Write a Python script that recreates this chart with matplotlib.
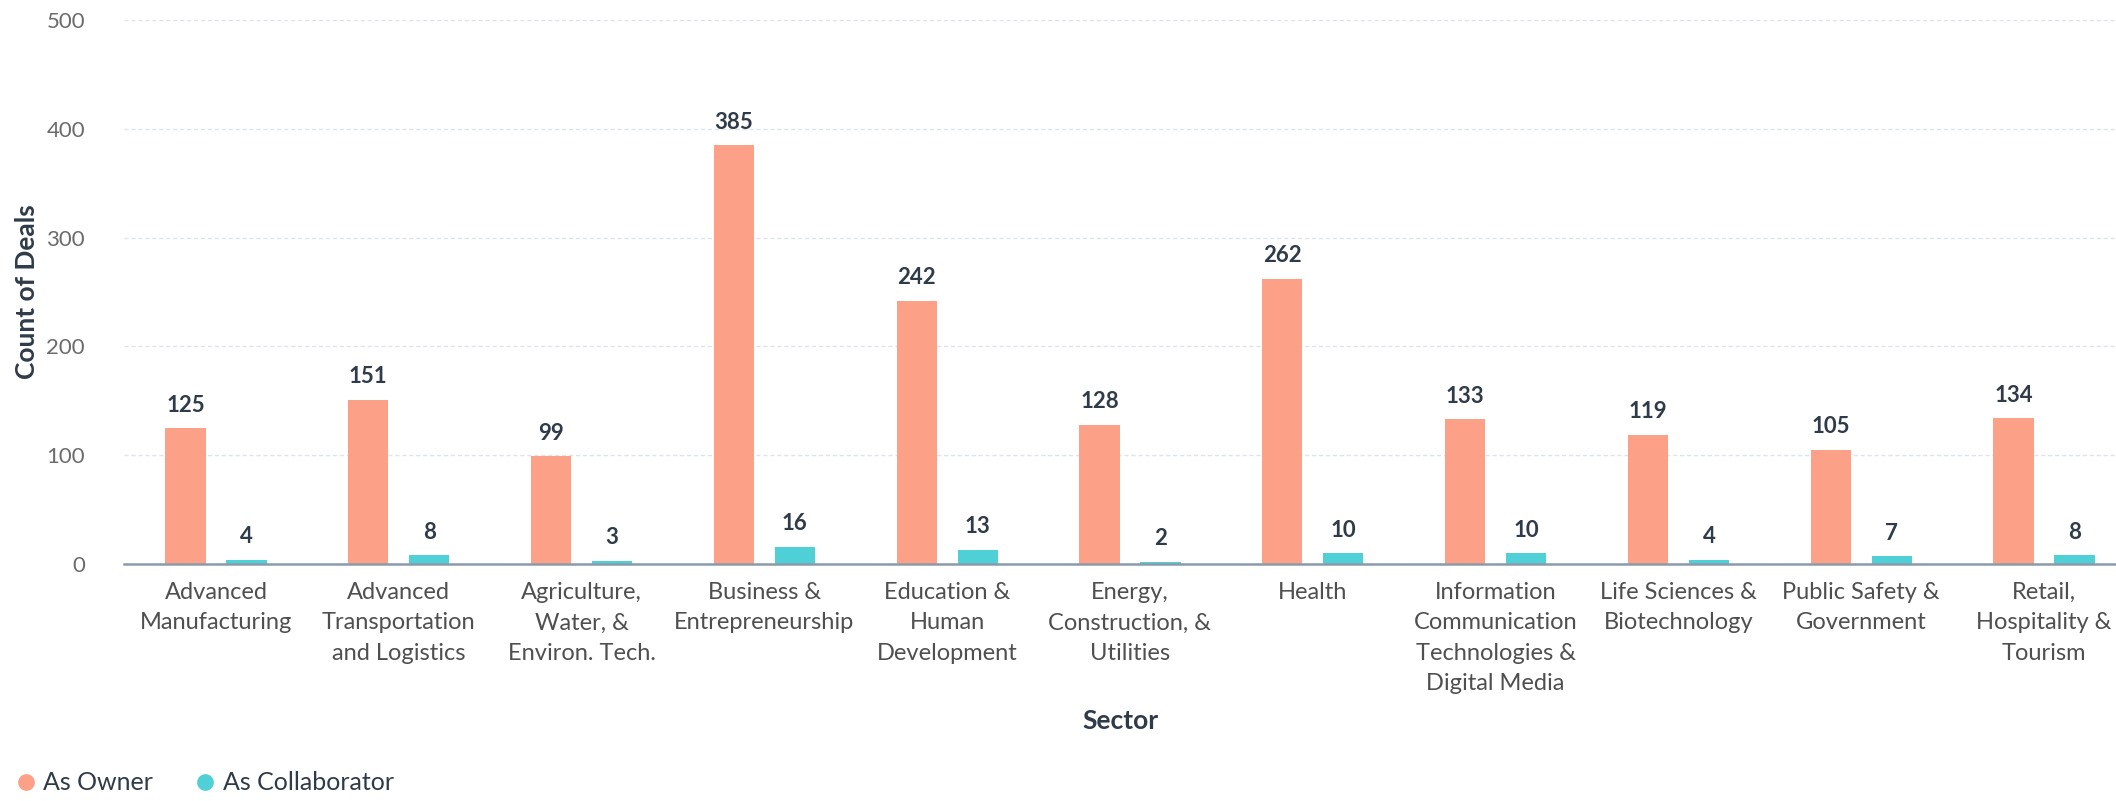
import matplotlib
matplotlib.use("Agg")
import matplotlib.pyplot as plt
import numpy as np
from matplotlib.lines import Line2D

plt.rcParams['font.family'] = ['Lato', 'DejaVu Sans']

categories = [
    "Advanced\nManufacturing",
    "Advanced\nTransportation\nand Logistics",
    "Agriculture,\nWater, &\nEnviron. Tech.",
    "Business &\nEntrepreneurship",
    "Education &\nHuman\nDevelopment",
    "Energy,\nConstruction, &\nUtilities",
    "Health",
    "Information\nCommunication\nTechnologies &\nDigital Media",
    "Life Sciences &\nBiotechnology",
    "Public Safety &\nGovernment",
    "Retail,\nHospitality &\nTourism",
]
owner = [125, 151, 99, 385, 242, 128, 262, 133, 119, 105, 134]
collaborator = [4, 8, 3, 16, 13, 2, 10, 10, 4, 7, 8]
yticks = [0, 100, 200, 300, 400, 500]

OWNER_C = "#fca088"
COLLAB_C = "#4fcfd6"
DARK = "#2f3b48"
TICKC = "#4f4f4f"

W, H = 2116, 801
fig = plt.figure(figsize=(W / 100, H / 100), dpi=100)
ax = fig.add_axes([124 / W, 1 - 564 / H, 1 - 124 / W, (564 - 20) / H])

x = np.arange(len(categories))
bw = 0.22
off = 0.167
b1 = ax.bar(x - off, owner, bw, color=OWNER_C, zorder=3)
b2 = ax.bar(x + off, collaborator, bw, color=COLLAB_C, zorder=3)

for bars, vals in ((b1, owner), (b2, collaborator)):
    for r, v in zip(bars, vals):
        ax.annotate(str(v), (r.get_x() + r.get_width() / 2, v), xytext=(0, 9),
                    textcoords="offset points", ha="center", va="bottom",
                    fontsize=16, fontweight="bold", color=DARK)

ax.set_xlim(-0.503, 10.394)
ax.set_ylim(0, 500)
ax.set_yticks(yticks)
ax.set_xticks(x)
ax.set_xticklabels(categories, fontsize=17, color=TICKC, linespacing=1.55)
ax.tick_params(axis='x', length=0, pad=13)
ax.tick_params(axis='y', length=0, pad=28, labelsize=16, labelcolor="#6b6b6b")

ax.grid(axis='y', color="#dfe3eb", linestyle=(0, (3, 2)), linewidth=1, zorder=0)
for s in ("top", "right", "left"):
    ax.spines[s].set_visible(False)
ax.spines["bottom"].set_color("#8a9bab")
ax.spines["bottom"].set_linewidth(1.8)
ax.spines["bottom"].set_zorder(4)

ax.set_xlabel("Sector", fontsize=19, fontweight="bold", color=DARK)
ax.set_ylabel("Count of Deals", fontsize=19, fontweight="bold", color=DARK)
ax.yaxis.set_label_coords(-(124 - 27) / (W - 124), 0.5)
ax.xaxis.set_label_coords(0.5, -(721 - 564) / 544)
ax.xaxis.label.set_va("center")
ax.yaxis.label.set_va("center")

handles = [Line2D([], [], marker='o', linestyle='', markersize=11, color=OWNER_C),
           Line2D([], [], marker='o', linestyle='', markersize=11, color=COLLAB_C)]
fig.legend(handles, ["As Owner", "As Collaborator"], loc="center left",
           bbox_to_anchor=(13 / W, 1 - 783 / H), ncol=2, frameon=False,
           fontsize=18, labelcolor=DARK, handletextpad=0.2, columnspacing=1.6,
           handlelength=1.0, borderpad=0, borderaxespad=0)

fig.savefig("out.png", dpi=100)
